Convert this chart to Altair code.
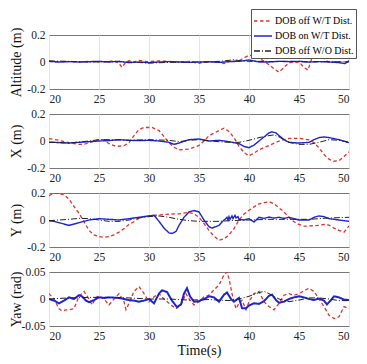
import altair as alt
import pandas as pd

SERIES = ["DOB off W/T Dist.", "DOB on W/T Dist.", "DOB off W/O Dist."]
COLORS = ["#e5302b", "#1c24d4", "#222222"]
DASHES = [[3.5, 2.5], [1, 0], [6, 2, 1, 2]]
X_TICKS = [20, 25, 30, 35, 40, 45, 50]

# ---------------- Altitude ----------------
alt_red_t = [20, 21, 22, 23, 24, 25, 26, 26.5, 27, 27.3, 27.6, 28, 28.5, 29, 29.5, 30, 31, 32, 33, 34, 35, 35.5, 36, 37, 37.5, 38, 39, 40, 40.5, 41, 42, 42.5, 43, 43.5, 44, 45, 45.5, 45.9, 46.3, 46.7, 47.2, 47.7, 48, 49, 50]
alt_red_v = [0.005, 0.0, 0.003, 0.0, 0.005, 0.0, 0.002, 0.01, -0.01, -0.04, -0.01, 0.01, 0.0, 0.012, 0.005, 0.003, 0.008, 0.005, 0.0, 0.004, -0.01, 0.0, 0.0, 0.003, -0.012, 0.003, 0.01, 0.05, 0.045, 0.03, -0.02, -0.05, -0.075, -0.04, -0.005, 0.0, -0.04, -0.06, 0.03, 0.095, 0.05, 0.01, 0.0, 0.0, 0.003]
alt_blue_t = [20, 21, 22, 23, 24, 25, 26, 27, 28, 29, 30, 31, 32, 33, 34, 35, 36, 37, 38, 39, 40, 40.5, 41, 42, 43, 44, 45, 46, 47, 48, 49, 49.6, 50]
alt_blue_v = [0.005, 0.0, 0.003, 0.0, 0.002, 0.005, 0.0, 0.005, -0.005, 0.0, -0.005, 0.0, 0.003, 0.0, -0.003, 0.0, 0.002, -0.003, 0.003, 0.005, 0.015, 0.008, 0.0, 0.0, 0.005, 0.003, 0.005, 0.0, 0.003, 0.0, -0.005, -0.012, 0.01]
alt_black_t = [20, 22, 24, 26, 28, 30, 32, 34, 36, 37, 38, 38.5, 39, 40, 41, 42, 44, 46, 48, 50]
alt_black_v = [0.008, 0.005, 0.0, 0.003, 0.0, -0.008, -0.003, 0.0, 0.0, 0.005, 0.012, 0.018, 0.01, 0.005, 0.005, 0.003, 0.005, 0.0, 0.003, 0.0]

# ---------------- X ----------------
x_red_t = [20, 21, 22, 23, 23.5, 24, 25, 25.5, 26, 26.7, 27.5, 28, 28.5, 29, 29.5, 30.3, 31, 31.5, 32, 32.5, 33, 34, 35, 35.5, 36, 37, 37.5, 38, 38.5, 39, 39.5, 40, 40.5, 41, 42, 43, 44, 45, 46, 46.5, 47, 47.5, 48, 48.5, 49, 49.5, 50]
x_red_v = [0.018, 0.005, -0.013, -0.025, -0.025, -0.013, 0.01, 0.01, -0.02, -0.04, -0.035, -0.013, 0.04, 0.085, 0.1, 0.1, 0.077, 0.033, -0.013, -0.046, -0.065, -0.06, -0.033, 0.0, 0.04, 0.077, 0.095, 0.07, 0.025, -0.04, -0.085, -0.11, -0.09, -0.065, -0.033, 0.0, 0.02, 0.02, 0.008, -0.013, -0.05, -0.1, -0.135, -0.15, -0.145, -0.115, -0.08]
x_blue_t = [20, 22, 23, 24, 25, 26, 27, 28, 29, 30, 31, 32, 32.5, 33, 34, 35, 35.5, 36, 37, 38, 39, 39.5, 40, 40.5, 41, 41.5, 42, 42.3, 42.7, 43, 43.5, 44, 45, 46, 46.5, 47, 47.5, 48, 49, 50]
x_blue_v = [-0.008, -0.015, -0.01, -0.005, 0.0, 0.003, 0.01, 0.005, 0.003, 0.005, 0.0, -0.01, -0.025, -0.015, 0.01, 0.015, 0.008, 0.0, 0.005, -0.005, -0.02, -0.04, -0.05, -0.03, 0.0, 0.03, 0.06, 0.068, 0.06, 0.04, 0.01, -0.01, -0.015, -0.01, 0.01, 0.025, 0.03, 0.025, 0.01, -0.012]
x_black_t = [20, 22, 24, 25, 26, 28, 30, 32, 33, 34, 35, 36, 38, 39, 40, 41, 42, 42.5, 43, 44, 45, 46, 47, 48, 49, 50]
x_black_v = [-0.01, -0.015, 0.0, 0.01, 0.01, 0.005, 0.01, 0.005, -0.005, 0.005, 0.01, 0.0, -0.01, -0.01, 0.005, 0.025, 0.04, 0.045, 0.03, -0.01, -0.025, -0.025, -0.01, 0.01, 0.005, -0.01]

# ---------------- Y ----------------
y_red_t = [20, 20.5, 21, 21.5, 22, 22.5, 23, 23.5, 24, 24.5, 25, 25.5, 26, 26.5, 27, 27.5, 28, 28.5, 29, 29.5, 30, 31, 32, 33, 34, 34.5, 35, 35.5, 36, 36.5, 37, 37.5, 38, 38.5, 39, 39.5, 40, 40.5, 41, 41.5, 42, 42.5, 43, 43.5, 44, 44.5, 45, 45.5, 46, 47, 47.5, 48, 48.5, 49, 49.5, 50]
y_red_v = [0.18, 0.2, 0.195, 0.187, 0.155, 0.1, 0.05, -0.013, -0.077, -0.11, -0.123, -0.128, -0.123, -0.11, -0.09, -0.064, -0.033, -0.013, 0.013, 0.026, 0.03, 0.038, 0.044, 0.046, 0.056, 0.046, 0.02, -0.026, -0.077, -0.12, -0.15, -0.14, -0.11, -0.064, 0.0, 0.044, 0.072, 0.097, 0.12, 0.128, 0.136, 0.12, 0.09, 0.06, 0.018, -0.013, -0.033, -0.046, -0.044, -0.04, -0.033, -0.038, -0.06, -0.077, -0.09, -0.044]
y_blue_t = [20, 20.5, 21, 21.5, 22, 22.5, 23, 23.5, 24, 25, 26, 27, 28, 29, 30, 30.5, 31, 31.5, 32, 32.3, 32.7, 33, 33.5, 34, 34.5, 35, 35.5, 36, 36.3, 37, 37.5, 37.6, 37.8, 37.9, 38.0, 38.1, 38.3, 38.4, 38.6, 38.7, 38.9, 39.0, 39.5, 40, 40.5, 41, 41.5, 42, 42.5, 43, 43.5, 44, 44.5, 45, 46, 46.5, 47, 47.5, 48, 49, 50]
y_blue_v = [-0.005, -0.01, -0.02, -0.03, -0.04, -0.03, -0.02, -0.01, 0.0, 0.01, 0.005, 0.0, 0.01, 0.02, 0.03, 0.035, -0.01, -0.06, -0.095, -0.1, -0.085, -0.04, 0.02, 0.06, 0.07, 0.06, 0.0, -0.05, -0.06, -0.04, 0.0, 0.005, 0.02, 0.0, 0.025, 0.005, 0.03, 0.01, 0.035, 0.015, 0.025, 0.005, 0.0, 0.01, -0.015, 0.02, 0.012, 0.022, 0.014, 0.02, 0.012, 0.02, 0.01, 0.0, 0.0, 0.02, 0.03, 0.025, 0.01, 0.0, -0.01]
y_black_t = [20, 21, 22, 23, 24, 25, 26, 27, 28, 29, 30, 31, 32, 33, 34, 35, 36, 37, 38, 40, 42, 44, 46, 48, 50]
y_black_v = [-0.005, 0.0, 0.005, 0.012, 0.01, 0.0, -0.01, -0.01, 0.0, 0.015, 0.025, 0.03, 0.02, 0.005, -0.005, -0.01, -0.01, -0.01, -0.005, 0.0, 0.005, 0.005, 0.005, 0.015, 0.02]

# ---------------- Yaw ----------------
yaw_red_t = [20, 20.5, 21, 21.3, 21.7, 22, 22.5, 23, 23.5, 24, 24.3, 24.7, 25, 25.5, 26, 26.5, 27, 27.5, 27.7, 28, 28.5, 29, 29.5, 30, 30.5, 31, 31.5, 32, 32.7, 33.2, 33.7, 34, 34.5, 35, 35.5, 36, 36.5, 37, 37.5, 37.8, 38, 38.3, 38.7, 39, 39.3, 39.7, 40, 40.5, 41, 41.5, 42, 42.5, 43, 43.5, 44, 44.5, 45, 45.5, 46, 46.5, 47, 47.5, 48, 48.5, 49, 49.5, 50]
yaw_red_v = [0.01, 0.0, -0.018, -0.022, -0.02, -0.02, -0.018, 0.005, 0.014, 0.0, -0.011, 0.003, 0.006, 0.0, -0.011, 0.0, 0.01, -0.005, -0.02, -0.008, 0.014, 0.023, 0.01, -0.005, 0.004, 0.01, 0.0, -0.008, -0.018, -0.011, 0.01, 0.0, -0.011, -0.005, 0.004, 0.007, 0.017, 0.026, 0.045, 0.05, 0.038, 0.01, -0.018, -0.008, -0.002, -0.02, -0.005, 0.01, 0.014, -0.005, -0.014, -0.02, -0.008, 0.007, 0.01, 0.007, 0.01, 0.015, 0.02, 0.014, 0.0, -0.014, -0.03, -0.036, -0.033, -0.014, -0.018]
yaw_blue_t = [20, 20.5, 21, 21.5, 22, 22.5, 23, 23.3, 23.7, 24, 24.5, 25, 25.5, 26, 27, 27.5, 28, 28.5, 29, 29.5, 30, 30.5, 31, 31.3, 31.8, 32.3, 32.8, 33.2, 33.5, 33.8, 34.1, 34.5, 35, 35.5, 36, 36.5, 37, 37.5, 37.8, 38.2, 38.5, 39, 39.3, 39.7, 40, 40.5, 41, 41.5, 42, 42.3, 42.7, 43, 43.5, 44, 44.5, 45, 45.5, 46, 46.5, 47, 47.5, 47.8, 48.2, 48.5, 49, 49.5, 50]
yaw_blue_v = [0.0, -0.003, -0.008, -0.003, 0.003, 0.0, 0.007, 0.005, -0.003, -0.006, -0.002, 0.003, 0.002, 0.003, 0.002, 0.0, -0.002, -0.003, -0.005, -0.003, 0.0, -0.008, 0.01, 0.016, 0.013, -0.003, -0.015, -0.01, 0.01, 0.02, 0.005, -0.005, -0.004, 0.0, 0.005, 0.003, -0.005, 0.008, 0.012, 0.0, -0.005, 0.002, -0.017, -0.017, -0.012, -0.008, -0.009, -0.004, 0.006, 0.008, -0.002, -0.007, -0.005, 0.0, 0.003, 0.005, 0.003, 0.0, -0.002, 0.001, -0.003, -0.01, -0.002, 0.005, 0.003, -0.001, -0.002]
yaw_black_t = [20, 22, 24, 26, 28, 30, 32, 34, 36, 38, 39, 40, 41, 41.5, 42, 43, 44, 45, 46, 47, 48, 49, 50]
yaw_black_v = [0.0, 0.002, 0.003, 0.003, 0.002, 0.0, 0.0, -0.002, -0.001, -0.003, 0.0, 0.005, 0.012, 0.014, 0.01, 0.0, -0.005, -0.002, 0.002, 0.002, 0.0, -0.003, -0.003]


def frame(series_lists, widths):
    rows = []
    for name, (ts, vs), w in zip(SERIES, series_lists, widths):
        for t, v in zip(ts, vs):
            rows.append({"t": t, "v": v, "s": name, "w": w})
    return pd.DataFrame(rows)


FONT = "Liberation Serif, Times New Roman, serif"

legend = alt.Legend(
    title=None, orient="none", legendX=202, legendY=-26,
    symbolType="stroke", symbolSize=324, symbolStrokeWidth=1.5,
    labelFont=FONT, labelFontSize=10, labelColor="black",
    fillColor="white", strokeColor="#555555", padding=2,
    rowPadding=0, labelOffset=2,
)


def panel(df, title, lim, ticks, last):
    return alt.Chart(df).mark_line(clip=True).encode(
        x=alt.X("t:Q", scale=alt.Scale(domain=[20, 50], nice=False, zero=False),
                axis=alt.Axis(values=X_TICKS, grid=True, labelPadding=4, titlePadding=2),
                title="Time(s)" if last else None),
        y=alt.Y("v:Q", scale=alt.Scale(domain=[-lim, lim], nice=False),
                axis=alt.Axis(values=ticks, grid=False, labelExpr="'' + datum.value",
                              labelPadding=4, titleX=-26, titleBaseline="bottom"),
                title=title),
        color=alt.Color("s:N", scale=alt.Scale(domain=SERIES, range=COLORS), legend=legend),
        strokeDash=alt.StrokeDash("s:N", scale=alt.Scale(domain=SERIES, range=DASHES), legend=legend),
        strokeWidth=alt.StrokeWidth("w:Q", scale=None),
    ).properties(width=300, height=54)


p1 = panel(frame([(alt_red_t, alt_red_v), (alt_blue_t, alt_blue_v), (alt_black_t, alt_black_v)], [1.3, 1.4, 1.0]),
           "Altitude (m)", 0.2, [-0.2, 0, 0.2], False)
p2 = panel(frame([(x_red_t, x_red_v), (x_blue_t, x_blue_v), (x_black_t, x_black_v)], [1.3, 1.4, 1.0]),
           "X (m)", 0.2, [-0.2, 0, 0.2], False)
p3 = panel(frame([(y_red_t, y_red_v), (y_blue_t, y_blue_v), (y_black_t, y_black_v)], [1.3, 1.4, 1.0]),
           "Y (m)", 0.2, [-0.2, 0, 0.2], False)
p4 = panel(frame([(yaw_red_t, yaw_red_v), (yaw_blue_t, yaw_blue_v), (yaw_black_t, yaw_black_v)], [1.3, 2.0, 1.0]),
           "Yaw (rad)", 0.05, [-0.05, 0, 0.05], True)

chart = alt.vconcat(p1, p2, p3, p4, spacing=25, bounds="flush").configure(
    font=FONT
).configure_view(
    stroke="#777777", strokeWidth=1
).configure_axis(
    labelFont=FONT, labelFontSize=11.5, labelColor="#222222",
    titleFont=FONT, titleFontSize=14, titleFontWeight="normal", titleColor="#111111",
    domain=False, ticks=False, gridColor="#e4e4e4", gridWidth=1,
).configure_legend(
    labelFont=FONT
).properties(
    padding={"left": 0, "top": 0, "right": 0, "bottom": 2}
)

chart.save("out.html", embed_options={"renderer": "svg", "actions": False})
